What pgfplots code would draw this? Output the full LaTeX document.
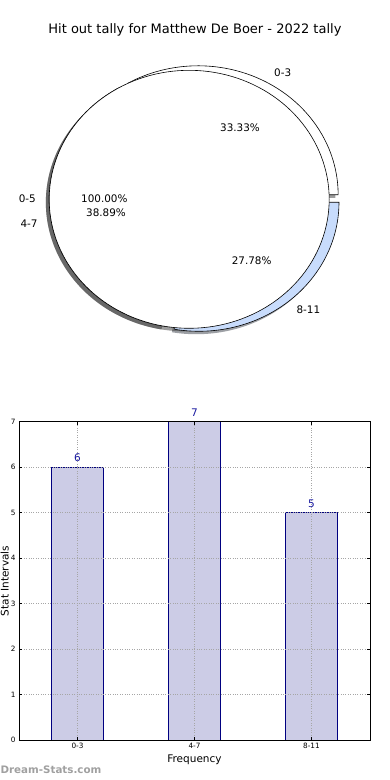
\documentclass[border=0pt]{standalone}
\usepackage{pgfplots}
\pgfplotsset{compat=1.18}
\usepackage{fontspec}
\setmainfont{DejaVu Sans}
\definecolor{slblue}{RGB}{200,220,252}
\definecolor{barfill}{RGB}{204,204,230}
\definecolor{baredge}{RGB}{0,0,128}
\definecolor{lblblue}{RGB}{25,25,160}
\definecolor{shadw}{RGB}{60,60,60}
\definecolor{shadb}{RGB}{60,66,76}
\definecolor{wmark}{RGB}{160,160,160}
\begin{document}
\begin{tikzpicture}
\path[use as bounding box] (0,0) rectangle (390pt,780pt);
% ---------------- pie ----------------
\begin{axis}[at={(0pt,430pt)}, anchor=south west, scale only axis,
  width=390pt, height=300pt,
  xmin=-1.3514, xmax=1.4343, ymin=-1.1682, ymax=1.1574,
  hide axis, clip=false]
% shadows
\addplot[draw=none, fill=shadw, fill opacity=0.5, domain=0:120, samples=80, variable=\t]
  ({0.044+cos(\t)}, {0.012+sin(\t)}) -- (0.044,0.012) -- cycle;
\addplot[draw=none, fill=shadw, fill opacity=0.55, domain=120:260, samples=80, variable=\t]
  ({-0.024+cos(\t)}, {-0.024+sin(\t)}) -- (-0.024,-0.024) -- cycle;
\addplot[draw=none, fill=shadb, fill opacity=0.5, domain=260:360, samples=80, variable=\t]
  ({0.05+cos(\t)}, {-0.046+sin(\t)}) -- (0.05,-0.046) -- cycle;
\addplot[draw=none, fill=shadw, fill opacity=0.5, domain=0:360, samples=150, variable=\t]
  ({-0.024+cos(\t)}, {-0.024+sin(\t)}) -- cycle;
% slices 0-3, 4-7, 8-11
\addplot[draw=black, line width=0.6pt, fill=white, domain=0:120, samples=80, variable=\t]
  ({0.064+cos(\t)}, {0.035+sin(\t)}) -- (0.064,0.035) -- cycle;
\addplot[draw=black, line width=0.6pt, fill=white, domain=120:260, samples=80, variable=\t]
  ({cos(\t)}, {sin(\t)}) -- (0,0) -- cycle;
\addplot[draw=black, line width=0.6pt, fill=slblue, domain=260:360, samples=80, variable=\t]
  ({0.07+cos(\t)}, {-0.023+sin(\t)}) -- (0.07,-0.023) -- cycle;
% slice 0-5 (100%)
\addplot[draw=black, line width=0.6pt, fill=white, domain=0:360, samples=150, variable=\t]
  ({cos(\t)}, {sin(\t)}) -- cycle;
\begin{scope}[every node/.style={inner sep=0pt, font=\fontsize{10.4}{12}\selectfont}]
\node at (0.668,0.984) {0-3};
\node at (0.363,0.558) {33.33\%};
\node at (-1.156,0.008) {0-5};
\node at (-0.606,0.008) {100.00\%};
\node at (-1.144,-0.189) {4-7};
\node at (-0.594,-0.104) {38.89\%};
\node at (0.446,-0.478) {27.78\%};
\node at (0.851,-0.858) {8-11};
\end{scope}
\node[inner sep=0pt, font=\fontsize{13}{15}\selectfont] at (0.041,1.312) {Hit out tally for Matthew De Boer - 2022 tally};
\end{axis}
% ---------------- bars ----------------
\begin{axis}[at={(19pt,40pt)}, anchor=south west, scale only axis,
  width=351pt, height=318.3pt,
  xmin=-0.5, xmax=2.5, ymin=0, ymax=7,
  xtick={0,1,2}, xticklabels={0-3,4-7,8-11},
  ytick={0,1,2,3,4,5,6,7},
  /pgf/number format/assume math mode=true,
  ticklabel style={font=\fontsize{7.3}{8}\selectfont},
  tick align=inside, major tick length=3pt,
  tick style={black, line width=0.5pt},
  grid=major, grid style={dotted, gray!70, line width=0.6pt},
  axis on top,
  axis line style={line width=0.8pt},
  xlabel={Frequency}, ylabel={Stat Intervals},
  label style={font=\fontsize{10.5}{12}\selectfont},
  xlabel style={at={(axis description cs:0.5,0)}, anchor=center, yshift=-20pt},
  ylabel style={at={(axis description cs:-0.0527,0.5)}, anchor=north, inner sep=0pt},
  clip=false]
\addplot[ybar, bar width=0.44, fill=barfill, draw=baredge, line width=0.7pt,
  nodes near coords,
  nodes near coords style={font=\fontsize{10.5}{12}\selectfont, text=lblblue, anchor=south, inner sep=0pt, yshift=5pt}]
  coordinates {(0,6) (1,7) (2,5)};
\node[anchor=west, inner sep=0pt, text=wmark, font=\bfseries\fontsize{10.3}{12}\selectfont] at (axis description cs:-0.053,-0.094) {Dream-Stats.com};
\end{axis}
\end{tikzpicture}
\end{document}
